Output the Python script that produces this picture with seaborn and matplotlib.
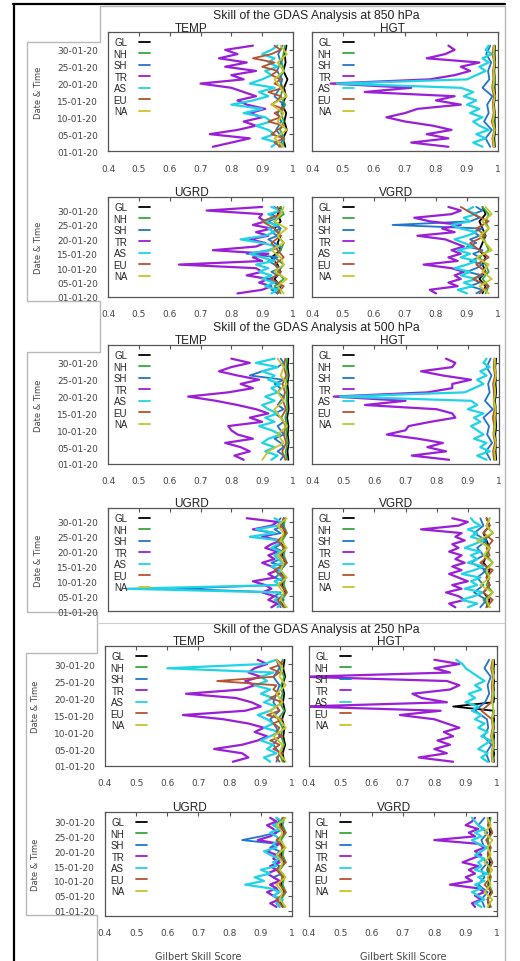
import matplotlib
matplotlib.use("Agg")
import matplotlib.pyplot as plt
from matplotlib.lines import Line2D
from matplotlib.transforms import offset_copy
import seaborn as sns
import pandas as pd

W, H = 520, 962

# time axis: days counted from the "01-01-20" tick
days25 = [1.25, 2.5, 3.75, 5.0, 6.25, 7.5, 8.75, 10.0, 11.25, 12.5, 13.75, 15.0, 16.25,
          17.5, 18.75, 20.0, 21.25, 22.5, 23.75, 25.0, 26.25, 27.5, 28.75, 30.0, 31.25]
days13 = [1.25, 3.75, 6.25, 8.75, 11.25, 13.75, 16.25, 18.75, 21.25, 23.75, 26.25, 28.75, 31.25]
date_ticks = [0, 5, 10, 15, 20, 25, 30]
date_labels = ["01-01-20", "05-01-20", "10-01-20", "15-01-20", "20-01-20", "25-01-20", "30-01-20"]
gss_ticks = [0.4, 0.5, 0.6, 0.7, 0.8, 0.9, 1.0]
gss_labels = ["0.4", "0.5", "0.6", "0.7", "0.8", "0.9", "1"]

regions = ["GL", "NH", "SH", "TR", "AS", "EU", "NA"]
colors = ["#000000", "#35a83a", "#2075cc", "#9a1fd6", "#1fd4e4", "#b4532e", "#c6c62a"]

# ---------------- 850 hPa ----------------
t850_gl = [0.975, 0.968, 0.980, 0.972, 0.978, 0.965, 0.977, 0.971, 0.982, 0.969, 0.976, 0.973, 0.979]
t850_nh = [0.965, 0.972, 0.958, 0.970, 0.962, 0.975, 0.960, 0.968, 0.955, 0.971, 0.963, 0.969, 0.974]
t850_sh = [0.955, 0.968, 0.945, 0.962, 0.950, 0.970, 0.940, 0.958, 0.965, 0.948, 0.960, 0.952, 0.966]
t850_tr = [0.74, 0.80, 0.86, 0.73, 0.82, 0.88, 0.84, 0.90, 0.86, 0.91, 0.85, 0.82, 0.88,
           0.84, 0.80, 0.70, 0.84, 0.80, 0.88, 0.78, 0.85, 0.76, 0.82, 0.78, 0.87]
t850_as = [0.93, 0.95, 0.90, 0.94, 0.92, 0.88, 0.93, 0.91, 0.84, 0.90, 0.80, 0.87, 0.92,
           0.89, 0.94, 0.86, 0.90, 0.93, 0.91, 0.95, 0.92, 0.94, 0.90, 0.93, 0.95]
t850_eu = [0.96, 0.94, 0.97, 0.93, 0.95, 0.97, 0.92, 0.96, 0.94, 0.97, 0.93, 0.95, 0.96,
           0.92, 0.97, 0.94, 0.96, 0.93, 0.95, 0.90, 0.94, 0.87, 0.93, 0.96, 0.94]
t850_na = [0.97, 0.94, 0.98, 0.95, 0.97, 0.93, 0.98, 0.96, 0.94, 0.97, 0.95, 0.98, 0.96]

z850_gl = [0.990, 0.988, 0.991, 0.989, 0.990, 0.987, 0.991, 0.989, 0.990, 0.988, 0.991, 0.989, 0.990]
z850_nh = [0.988, 0.985, 0.990, 0.986, 0.989, 0.984, 0.988, 0.986, 0.990, 0.985, 0.989, 0.987, 0.988]
z850_sh = [0.975, 0.960, 0.980, 0.955, 0.970, 0.965, 0.982, 0.950, 0.972, 0.968, 0.978, 0.962, 0.975]
z850_tr = [0.84, 0.72, 0.84, 0.77, 0.85, 0.79, 0.70, 0.64, 0.70, 0.74, 0.88, 0.80, 0.86,
           0.57, 0.72, 0.46, 0.78, 0.86, 0.91, 0.88, 0.94, 0.77, 0.83, 0.86, 0.84]
z850_as = [0.95, 0.92, 0.96, 0.93, 0.97, 0.94, 0.92, 0.95, 0.91, 0.94, 0.90, 0.93, 0.89,
           0.92, 0.88, 0.48, 0.90, 0.93, 0.96, 0.94, 0.97, 0.95, 0.98, 0.96, 0.97]
z850_eu = [0.985, 0.982, 0.988, 0.980, 0.986, 0.983, 0.987, 0.981, 0.985, 0.984, 0.988, 0.982, 0.986]
z850_na = [0.987, 0.984, 0.989, 0.983, 0.988, 0.985, 0.990, 0.984, 0.987, 0.986, 0.989, 0.985, 0.988]

u850_gl = [0.95, 0.96, 0.94, 0.96, 0.95, 0.93, 0.96, 0.95, 0.96, 0.94, 0.96, 0.95, 0.96]
u850_nh = [0.96, 0.94, 0.97, 0.95, 0.97, 0.94, 0.96, 0.97, 0.95, 0.96, 0.94, 0.97, 0.96]
u850_sh = [0.95, 0.93, 0.96, 0.94, 0.92, 0.95, 0.93, 0.96, 0.94, 0.92, 0.95, 0.85, 0.93,
           0.96, 0.94, 0.92, 0.95, 0.93, 0.96, 0.94, 0.92, 0.95, 0.93, 0.96, 0.94]
u850_tr = [0.82, 0.90, 0.93, 0.89, 0.92, 0.85, 0.90, 0.88, 0.63, 0.90, 0.87, 0.92, 0.74,
           0.88, 0.91, 0.86, 0.92, 0.88, 0.93, 0.87, 0.91, 0.89, 0.90, 0.72, 0.90]
u850_as = [0.93, 0.95, 0.91, 0.94, 0.90, 0.93, 0.89, 0.92, 0.88, 0.94, 0.90, 0.86, 0.92,
           0.95, 0.90, 0.83, 0.91, 0.94, 0.92, 0.95, 0.90, 0.94, 0.92, 0.96, 0.93]
u850_eu = [0.95, 0.97, 0.93, 0.96, 0.94, 0.97, 0.95, 0.93, 0.96, 0.94, 0.90, 0.96, 0.95]
u850_na = [0.97, 0.95, 0.98, 0.94, 0.97, 0.96, 0.93, 0.97, 0.95, 0.98, 0.94, 0.96, 0.97]

v850_gl = [0.95, 0.96, 0.94, 0.96, 0.95, 0.96, 0.94, 0.95, 0.96, 0.95, 0.94, 0.96, 0.95]
v850_nh = [0.96, 0.97, 0.95, 0.97, 0.96, 0.94, 0.97, 0.96, 0.95, 0.97, 0.96, 0.97, 0.95]
v850_sh = [0.93, 0.95, 0.91, 0.94, 0.92, 0.95, 0.90, 0.93, 0.95, 0.91, 0.94, 0.92, 0.95,
           0.90, 0.93, 0.91, 0.94, 0.92, 0.95, 0.66, 0.91, 0.94, 0.92, 0.95, 0.93]
v850_tr = [0.80, 0.78, 0.87, 0.84, 0.88, 0.86, 0.89, 0.85, 0.76, 0.87, 0.84, 0.88, 0.85,
           0.89, 0.86, 0.83, 0.74, 0.86, 0.82, 0.88, 0.78, 0.73, 0.85, 0.88, 0.84]
v850_as = [0.90, 0.87, 0.92, 0.89, 0.93, 0.88, 0.91, 0.86, 0.90, 0.93, 0.88, 0.91, 0.87,
           0.92, 0.89, 0.86, 0.90, 0.93, 0.88, 0.85, 0.91, 0.89, 0.93, 0.90, 0.92]
v850_eu = [0.94, 0.97, 0.92, 0.96, 0.93, 0.97, 0.94, 0.91, 0.96, 0.93, 0.97, 0.92, 0.88]
v850_na = [0.97, 0.94, 0.98, 0.95, 0.97, 0.93, 0.98, 0.96, 0.94, 0.97, 0.95, 0.98, 0.96]

# ---------------- 500 hPa ----------------
t500_gl = [0.985, 0.982, 0.986, 0.983, 0.985, 0.981, 0.986, 0.984, 0.985, 0.982, 0.986, 0.983, 0.985]
t500_nh = [0.980, 0.976, 0.983, 0.978, 0.981, 0.975, 0.982, 0.979, 0.980, 0.977, 0.983, 0.978, 0.981]
t500_sh = [0.96, 0.97, 0.95, 0.97, 0.96, 0.94, 0.97, 0.96, 0.95, 0.97, 0.96, 0.94, 0.97,
           0.95, 0.96, 0.97, 0.95, 0.96, 0.94, 0.97, 0.86, 0.90, 0.95, 0.97, 0.96]
t500_tr = [0.84, 0.81, 0.86, 0.83, 0.78, 0.87, 0.82, 0.80, 0.79, 0.90, 0.86, 0.92, 0.88,
           0.82, 0.75, 0.66, 0.79, 0.87, 0.83, 0.89, 0.82, 0.76, 0.80, 0.86, 0.80]
t500_as = [0.93, 0.95, 0.91, 0.94, 0.90, 0.92, 0.96, 0.93, 0.89, 0.94, 0.91, 0.95, 0.92,
           0.90, 0.94, 0.91, 0.95, 0.93, 0.96, 0.92, 0.94, 0.90, 0.95, 0.88, 0.94]
t500_eu = [0.975, 0.965, 0.978, 0.970, 0.976, 0.962, 0.977, 0.968, 0.974, 0.966, 0.978, 0.970, 0.975]
t500_na = [0.90, 0.92, 0.97, 0.95, 0.98, 0.96, 0.94, 0.97, 0.95, 0.98, 0.96, 0.97, 0.95]

z500_gl = [0.991, 0.989, 0.990, 0.988, 0.991, 0.989, 0.990, 0.987, 0.991, 0.989, 0.990, 0.988, 0.991]
z500_nh = [0.987, 0.985, 0.989, 0.984, 0.988, 0.986, 0.990, 0.985, 0.988, 0.984, 0.989, 0.986, 0.988]
z500_sh = [0.972, 0.958, 0.978, 0.962, 0.968, 0.950, 0.980, 0.955, 0.970, 0.965, 0.976, 0.960, 0.973]
z500_tr = [0.84, 0.72, 0.83, 0.77, 0.82, 0.74, 0.64, 0.70, 0.71, 0.78, 0.86, 0.85, 0.80,
           0.57, 0.70, 0.47, 0.77, 0.85, 0.85, 0.91, 0.82, 0.75, 0.85, 0.86, 0.83]
z500_as = [0.96, 0.93, 0.97, 0.94, 0.96, 0.92, 0.95, 0.93, 0.91, 0.94, 0.92, 0.95, 0.90,
           0.93, 0.91, 0.49, 0.89, 0.92, 0.95, 0.93, 0.96, 0.94, 0.97, 0.95, 0.96]
z500_eu = [0.984, 0.981, 0.987, 0.982, 0.985, 0.980, 0.986, 0.983, 0.984, 0.981, 0.987, 0.983, 0.985]
z500_na = [0.988, 0.985, 0.990, 0.984, 0.987, 0.986, 0.989, 0.983, 0.988, 0.985, 0.990, 0.986, 0.987]

u500_gl = [0.970, 0.960, 0.975, 0.965, 0.970, 0.960, 0.975, 0.965, 0.970, 0.960, 0.975, 0.965, 0.970]
u500_nh = [0.975, 0.965, 0.980, 0.970, 0.975, 0.960, 0.980, 0.970, 0.975, 0.965, 0.980, 0.970, 0.975]
u500_sh = [0.96, 0.95, 0.97, 0.94, 0.96, 0.62, 0.95, 0.97, 0.94, 0.96, 0.95, 0.97, 0.93,
           0.96, 0.95, 0.97, 0.94, 0.96, 0.95, 0.90, 0.96, 0.94, 0.97, 0.95, 0.96]
u500_tr = [0.93, 0.95, 0.92, 0.94, 0.90, 0.93, 0.91, 0.87, 0.94, 0.92, 0.95, 0.93, 0.90,
           0.94, 0.92, 0.95, 0.91, 0.93, 0.96, 0.90, 0.94, 0.87, 0.93, 0.95, 0.85]
u500_as = [0.95, 0.96, 0.94, 0.97, 0.95, 0.46, 0.96, 0.94, 0.97, 0.95, 0.96, 0.93, 0.97,
           0.95, 0.94, 0.96, 0.93, 0.95, 0.96, 0.86, 0.94, 0.88, 0.95, 0.96, 0.94]
u500_eu = [0.97, 0.95, 0.98, 0.96, 0.97, 0.94, 0.98, 0.96, 0.97, 0.95, 0.98, 0.96, 0.97]
u500_na = [0.98, 0.96, 0.97, 0.95, 0.98, 0.96, 0.97, 0.95, 0.98, 0.96, 0.97, 0.95, 0.98]

v500_gl = [0.96, 0.97, 0.95, 0.97, 0.96, 0.97, 0.95, 0.96, 0.97, 0.96, 0.95, 0.97, 0.96]
v500_nh = [0.97, 0.95, 0.98, 0.96, 0.97, 0.95, 0.98, 0.96, 0.97, 0.95, 0.98, 0.96, 0.97]
v500_sh = [0.94, 0.96, 0.92, 0.95, 0.93, 0.96, 0.91, 0.95, 0.93, 0.96, 0.92, 0.95, 0.94]
v500_tr = [0.86, 0.84, 0.89, 0.87, 0.83, 0.88, 0.85, 0.90, 0.87, 0.84, 0.88, 0.85, 0.89,
           0.86, 0.88, 0.84, 0.87, 0.85, 0.89, 0.86, 0.88, 0.75, 0.87, 0.90, 0.85]
v500_as = [0.90, 0.93, 0.88, 0.92, 0.95, 0.89, 0.93, 0.91, 0.94, 0.88, 0.92, 0.95, 0.90,
           0.93, 0.91, 0.94, 0.89, 0.92, 0.95, 0.91, 0.93, 0.90, 0.94, 0.92, 0.91]
v500_eu = [0.96, 0.98, 0.95, 0.97, 0.96, 0.98, 0.94, 0.97, 0.96, 0.98, 0.95, 0.97, 0.96]
v500_na = [0.97, 0.96, 0.98, 0.94, 0.97, 0.96, 0.98, 0.95, 0.97, 0.93, 0.98, 0.96, 0.97]

# ---------------- 250 hPa ----------------
t250_gl = [0.975, 0.970, 0.978, 0.972, 0.976, 0.968, 0.977, 0.971, 0.975, 0.969, 0.978, 0.972, 0.976]
t250_nh = [0.970, 0.960, 0.975, 0.965, 0.970, 0.955, 0.975, 0.960, 0.970, 0.965, 0.975, 0.960, 0.970]
t250_sh = [0.95, 0.96, 0.94, 0.96, 0.95, 0.93, 0.96, 0.94, 0.95, 0.96, 0.94, 0.96, 0.95]
t250_tr = [0.81, 0.86, 0.84, 0.75, 0.84, 0.89, 0.92, 0.88, 0.91, 0.86, 0.78, 0.65, 0.85,
           0.90, 0.87, 0.82, 0.66, 0.84, 0.88, 0.85, 0.90, 0.86, 0.88, 0.92, 0.89]
t250_as = [0.93, 0.91, 0.95, 0.92, 0.94, 0.90, 0.93, 0.96, 0.91, 0.94, 0.92, 0.89, 0.93,
           0.95, 0.91, 0.94, 0.90, 0.93, 0.88, 0.92, 0.90, 0.94, 0.60, 0.91, 0.95]
t250_eu = [0.96, 0.95, 0.97, 0.94, 0.96, 0.93, 0.97, 0.95, 0.96, 0.94, 0.97, 0.92, 0.96,
           0.95, 0.97, 0.93, 0.96, 0.94, 0.95, 0.76, 0.94, 0.96, 0.93, 0.97, 0.95]
t250_na = [0.98, 0.96, 0.97, 0.94, 0.98, 0.96, 0.93, 0.97, 0.95, 0.98, 0.96, 0.97, 0.95]

z250_gl = [0.990, 0.989, 0.991, 0.988, 0.990, 0.989, 0.991, 0.988, 0.990, 0.989, 0.991, 0.988, 0.990,
           0.860, 0.989, 0.991, 0.988, 0.990, 0.989, 0.991, 0.988, 0.990, 0.989, 0.991, 0.990]
z250_nh = [0.988, 0.985, 0.990, 0.986, 0.989, 0.984, 0.988, 0.986, 0.990, 0.985, 0.989, 0.987, 0.988]
z250_sh = [0.975, 0.965, 0.982, 0.958, 0.972, 0.968, 0.930, 0.962, 0.975, 0.970, 0.980, 0.960, 0.975]
z250_tr = [0.86, 0.75, 0.84, 0.80, 0.85, 0.81, 0.86, 0.83, 0.88, 0.84, 0.80, 0.69, 0.82,
           0.38, 0.84, 0.76, 0.73, 0.85, 0.88, 0.84, 0.38, 0.85, 0.80, 0.88, 0.80]
z250_as = [0.97, 0.95, 0.97, 0.94, 0.96, 0.98, 0.95, 0.97, 0.94, 0.96, 0.93, 0.95, 0.92,
           0.94, 0.90, 0.93, 0.91, 0.95, 0.93, 0.96, 0.94, 0.92, 0.90, 0.89, 0.87]
z250_eu = [0.985, 0.983, 0.987, 0.981, 0.986, 0.984, 0.950, 0.982, 0.985, 0.983, 0.987, 0.981, 0.986]
z250_na = [0.987, 0.984, 0.989, 0.983, 0.988, 0.985, 0.990, 0.984, 0.987, 0.986, 0.989, 0.985, 0.988]

u250_gl = [0.970, 0.960, 0.975, 0.965, 0.970, 0.960, 0.975, 0.965, 0.970, 0.960, 0.975, 0.965, 0.970]
u250_nh = [0.975, 0.965, 0.980, 0.970, 0.975, 0.960, 0.980, 0.970, 0.975, 0.965, 0.980, 0.970, 0.975]
u250_sh = [0.96, 0.95, 0.97, 0.94, 0.96, 0.95, 0.93, 0.96, 0.94, 0.97, 0.95, 0.96, 0.94,
           0.97, 0.95, 0.96, 0.93, 0.95, 0.84, 0.90, 0.95, 0.97, 0.94, 0.96, 0.95]
u250_tr = [0.95, 0.93, 0.96, 0.94, 0.92, 0.95, 0.93, 0.96, 0.94, 0.92, 0.95, 0.93, 0.96,
           0.94, 0.95, 0.92, 0.94, 0.96, 0.89, 0.93, 0.95, 0.94, 0.92, 0.95, 0.93]
u250_as = [0.96, 0.95, 0.97, 0.94, 0.96, 0.93, 0.85, 0.91, 0.88, 0.93, 0.90, 0.95, 0.94,
           0.96, 0.93, 0.91, 0.95, 0.94, 0.96, 0.95, 0.93, 0.96, 0.94, 0.97, 0.95]
u250_eu = [0.97, 0.95, 0.98, 0.96, 0.97, 0.95, 0.98, 0.96, 0.97, 0.95, 0.98, 0.96, 0.97]
u250_na = [0.98, 0.96, 0.97, 0.95, 0.98, 0.96, 0.97, 0.95, 0.98, 0.96, 0.97, 0.95, 0.98]

v250_gl = [0.975, 0.970, 0.980, 0.972, 0.976, 0.969, 0.978, 0.971, 0.975, 0.970, 0.979, 0.972, 0.976]
v250_nh = [0.980, 0.970, 0.985, 0.975, 0.980, 0.970, 0.985, 0.975, 0.980, 0.970, 0.985, 0.975, 0.980]
v250_sh = [0.96, 0.95, 0.97, 0.94, 0.96, 0.95, 0.97, 0.94, 0.96, 0.95, 0.97, 0.94, 0.96]
v250_tr = [0.93, 0.92, 0.95, 0.93, 0.96, 0.94, 0.85, 0.92, 0.90, 0.93, 0.91, 0.94, 0.89,
           0.92, 0.95, 0.93, 0.96, 0.94, 0.80, 0.93, 0.91, 0.94, 0.90, 0.92, 0.93]
v250_as = [0.95, 0.93, 0.96, 0.94, 0.92, 0.95, 0.93, 0.96, 0.94, 0.97, 0.93, 0.95, 0.94,
           0.96, 0.93, 0.95, 0.97, 0.94, 0.92, 0.95, 0.93, 0.96, 0.94, 0.93, 0.92]
v250_eu = [0.980, 0.970, 0.985, 0.960, 0.980, 0.975, 0.985, 0.970, 0.980, 0.965, 0.985, 0.975, 0.970]
v250_na = [0.970, 0.985, 0.960, 0.980, 0.970, 0.985, 0.960, 0.980, 0.970, 0.985, 0.960, 0.980, 0.970]

series = {
    ("850", "TEMP"): [t850_gl, t850_nh, t850_sh, t850_tr, t850_as, t850_eu, t850_na],
    ("850", "HGT"): [z850_gl, z850_nh, z850_sh, z850_tr, z850_as, z850_eu, z850_na],
    ("850", "UGRD"): [u850_gl, u850_nh, u850_sh, u850_tr, u850_as, u850_eu, u850_na],
    ("850", "VGRD"): [v850_gl, v850_nh, v850_sh, v850_tr, v850_as, v850_eu, v850_na],
    ("500", "TEMP"): [t500_gl, t500_nh, t500_sh, t500_tr, t500_as, t500_eu, t500_na],
    ("500", "HGT"): [z500_gl, z500_nh, z500_sh, z500_tr, z500_as, z500_eu, z500_na],
    ("500", "UGRD"): [u500_gl, u500_nh, u500_sh, u500_tr, u500_as, u500_eu, u500_na],
    ("500", "VGRD"): [v500_gl, v500_nh, v500_sh, v500_tr, v500_as, v500_eu, v500_na],
    ("250", "TEMP"): [t250_gl, t250_nh, t250_sh, t250_tr, t250_as, t250_eu, t250_na],
    ("250", "HGT"): [z250_gl, z250_nh, z250_sh, z250_tr, z250_as, z250_eu, z250_na],
    ("250", "UGRD"): [u250_gl, u250_nh, u250_sh, u250_tr, u250_as, u250_eu, u250_na],
    ("250", "VGRD"): [v250_gl, v250_nh, v250_sh, v250_tr, v250_as, v250_eu, v250_na],
}


def frame(lists):
    rows = []
    for reg, vals in zip(regions, lists):
        days = days25 if len(vals) == len(days25) else days13
        assert len(vals) == len(days)
        for d, v in zip(days, vals):
            rows.append((reg, d, v))
    return pd.DataFrame(rows, columns=["region", "day", "gss"])


sns.set_theme(style="white")
plt.rcParams["font.family"] = ["DejaVu Sans"]
sans = ["Liberation Sans", "DejaVu Sans"]

fig = plt.figure(figsize=(W / 100, H / 100), dpi=100)
fig.patch.set_facecolor("white")


def px_axes(l, t, r, b):
    return fig.add_axes([l / W, 1 - b / H, (r - l) / W, (b - t) / H])


def px_line(pts, color, lw):
    xs = [p[0] / W for p in pts]
    ys = [1 - p[1] / H for p in pts]
    fig.add_artist(Line2D(xs, ys, color=color, lw=lw, transform=fig.transFigure, zorder=0))


# screenshot borders and outer frame
px_line([(505, 7), (100, 7), (100, 43), (27, 43), (27, 302), (100, 302), (100, 353), (27, 353),
         (27, 613), (97, 613), (97, 654), (26, 654), (26, 916), (97, 916), (97, 962)], "#b8b8b8", 1.0)
px_line([(97, 624), (505, 624)], "#d0d0d0", 0.8)
px_line([(505, 7), (505, 962)], "#b8b8b8", 1.0)
px_line([(13, 5), (505, 5)], "black", 1.6)
px_line([(14, 5), (14, 962)], "black", 1.6)

# level, suptitle y, rows (top, bottom, ylim, show x labels), cols (left, right)
layout = [
    ("850", 15.5, [(33, 152, (0, 35.3), True), (198, 298, (0, 34.7), True)], [(108, 293), (312, 498)]),
    ("500", 328.5, [(346, 465, (0, 35.3), True), (509, 612, (0, 34.7), False)], [(108, 293), (312, 499)]),
    ("250", 630, [(647, 767, (0, 35.3), True), (813, 917, (-1.8, 33.2), True)], [(105, 292), (309, 497)]),
]
names = [["TEMP", "HGT"], ["UGRD", "VGRD"]]
title_x = {"TEMP": 0.45, "HGT": 0.43, "UGRD": 0.45, "VGRD": 0.45}

for level, sup_y, rows, cols in layout:
    fig.text(316 / W, 1 - sup_y / H, f"Skill of the GDAS Analysis at {level} hPa",
             ha="center", va="center", fontsize=8.8, color="#222222", family=sans)
    for ri, (top, bottom, ylim, xlab) in enumerate(rows):
        for ci, (left, right) in enumerate(cols):
            var = names[ri][ci]
            ax = px_axes(left, top, right, bottom)
            df = frame(series[(level, var)])
            sns.lineplot(data=df, x="gss", y="day", hue="region", hue_order=regions,
                         palette=colors, orient="y", sort=False, estimator=None,
                         lw=1.3, ax=ax)
            # TR and AS are drawn a little heavier, as in the original
            for k, line in enumerate(ax.lines[:len(regions)]):
                if regions[k] in ("TR", "AS"):
                    line.set_linewidth(1.6)
            ax.set_xlim(0.4, 1.0)
            ax.set_ylim(*ylim)
            ax.set_xticks(gss_ticks)
            ax.set_yticks(date_ticks)
            ax.set_xticklabels(gss_labels if xlab else [])
            ax.set_yticklabels(date_labels if ci == 0 else [])
            ax.tick_params(direction="in", top=True, right=True, length=3, width=0.8,
                           colors="#555555", labelcolor="#444444", labelsize=6.5)
            ax.tick_params(axis="x", pad=9)
            ax.tick_params(axis="y", pad=7)
            for sp in ax.spines.values():
                sp.set_color("#555555")
                sp.set_linewidth(0.9)
            ax.set_xlabel("")
            ax.set_ylabel("")
            if ci == 0:
                ax.set_ylabel("Date & Time", fontsize=6, color="#444444")
                ax.yaxis.set_label_coords(-0.35, 0.5)
            if level == "250" and ri == 1:
                ax.set_xlabel("Gilbert Skill Score", fontsize=7, color="#444444", labelpad=10)
            tt = offset_copy(ax.transAxes, fig=fig, y=-1.5, units="dots")
            ax.text(title_x[var], 1.0, var, transform=tt, ha="center", va="bottom",
                    fontsize=8.5, color="#222222", family=sans)
            h, l = ax.get_legend_handles_labels()
            ax.legend(h, l, loc="upper left", markerfirst=False, frameon=False,
                      prop={"family": sans, "size": 7}, handlelength=1.1, handletextpad=1.2,
                      labelspacing=0.15, borderaxespad=0.35, borderpad=0.2)

fig.savefig("out.png", dpi=100, facecolor="white")
